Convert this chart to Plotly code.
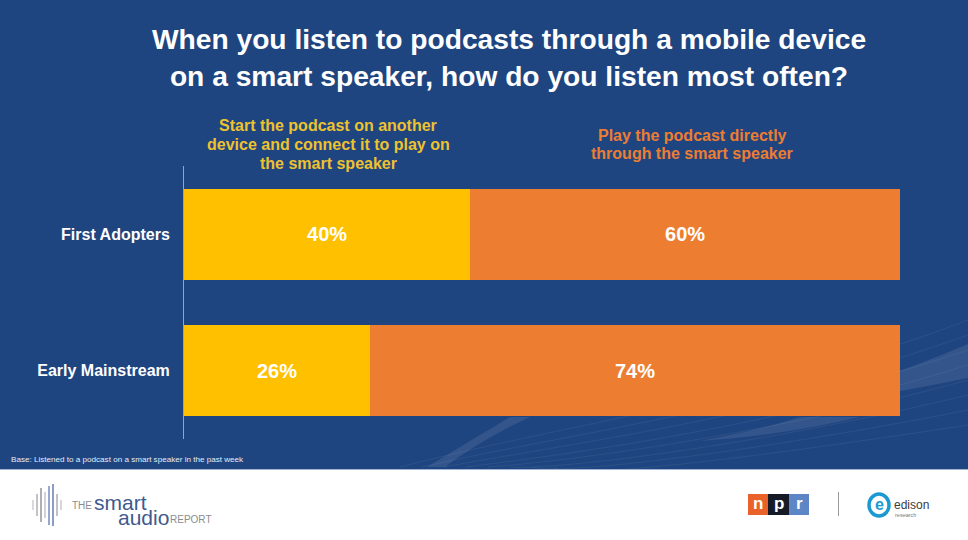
import plotly.graph_objects as go

categories = ["First Adopters", "Early Mainstream"]
series_names = [["Start the podcast on another", "device and connect it to play on", "the smart speaker"],
                ["Play the podcast directly", "through the smart speaker"]]
start_on_device = [40, 26]
play_directly = [60, 74]
title_text = "When you listen to podcasts through a mobile device<br>on a smart speaker, how do you listen most often?"
base_note = "Base: Listened to a podcast on a smart speaker in the past week"

W, H = 968, 540
L, R, T, B = 184, 68, 166, 101
PW, PH = W - L - R, H - T - B
FONT = "Liberation Sans, Arial, sans-serif"
BLUE, YEL, ORG = "#1f4580", "#ffc000", "#ed7d31"

def px(x): return (x - L) / PW
def py(y): return 1 - (y - T) / PH

fig = go.Figure()
for name, vals, col in [(series_names[0], start_on_device, YEL), (series_names[1], play_directly, ORG)]:
    fig.add_trace(go.Bar(
        y=categories, x=vals, orientation="h", name=" ".join(name),
        marker=dict(color=col, line=dict(width=0)),
        text=[f"{v}%" for v in vals], textposition="inside", insidetextanchor="middle",
        textangle=0, constraintext="none", cliponaxis=False,
        textfont=dict(family=FONT, size=20, color="white", weight="bold"),
        hoverinfo="x+y",
    ))

shapes = []
def rect(x0, y0, x1, y1, color, layer="below"):
    shapes.append(dict(type="rect", xref="paper", yref="paper", x0=px(x0), x1=px(x1), y0=py(y0), y1=py(y1),
                       fillcolor=color, line=dict(width=0), layer=layer))
def seg(x0, y0, x1, y1, color, width=1, layer="above"):
    shapes.append(dict(type="line", xref="paper", yref="paper", x0=px(x0), x1=px(x1), y0=py(y0), y1=py(y1),
                       line=dict(color=color, width=width), layer=layer))

# slide background
rect(0, 0, W, 469, BLUE)
seg(0, 469.5, W, 469.5, "#9fb3d3", 1, "below")

# faint decorative waves, lower right
for i, (y1, c) in enumerate([(320, 395), (335, 405), (350, 415), (365, 425), (380, 432), (395, 440), (410, 446), (425, 452)]):
    shapes.append(dict(type="path", xref="paper", yref="paper",
        path=f"M {px(400+i*22)} {py(467)} C {px(560)} {py(c+30)}, {px(760)} {py(c+5)}, {px(968)} {py(y1)}",
        line=dict(color="rgba(255,255,255,0.06)", width=1), layer="below"))

# brighter diagonal swooshes
swooshes = [
    f"M {px(427)} {py(467)} L {px(510)} {py(417)} L {px(530)} {py(417)} Q {px(480)} {py(440)} {px(445)} {py(467)} Z",
    f"M {px(700)} {py(441)} Q {px(760)} {py(430)} {px(800)} {py(417)} L {px(860)} {py(417)} Q {px(780)} {py(436)} {px(700)} {py(441)} Z",
    f"M {px(860)} {py(384)} Q {px(920)} {py(365)} {px(968)} {py(344)} L {px(968)} {py(378)} Q {px(920)} {py(388)} {px(860)} {py(398)} Z",
]
for p in swooshes:
    shapes.append(dict(type="path", xref="paper", yref="paper", path=p,
                       fillcolor="rgba(255,255,255,0.09)", line=dict(width=0), layer="below"))

# smart audio waveform
wave = [(33, 500, 510, "#c9c9d2"), (37, 494, 516, "#aaaaae"), (41, 488, 522, "#8d8d92"), (45, 492, 518, "#b9bdd0"),
        (49, 486, 525, "#6d82b6"), (53, 484, 526, "#5a74ae"), (57, 494, 516, "#a7a7ae"), (61, 500, 510, "#c6c6cc")]
for x, y0, y1, c in wave:
    seg(x, y0, x, y1, c, 1.4)

# npr blocks
rect(748, 494, 768, 515, "#e8622a", "above")
rect(768, 494, 789, 515, "#161a26", "above")
rect(789, 494, 809, 515, "#5c86c5", "above")
seg(838.5, 492, 838.5, 516, "#9a9a9a", 1)

# edison mark
shapes.append(dict(type="circle", xref="paper", yref="paper", x0=px(869), x1=px(889), y0=py(494), y1=py(516),
                   line=dict(color="#1b9ad1", width=3.5), layer="above"))

def note(x, y, text, size, color, anchor="center", bold=False):
    fig.add_annotation(xref="paper", yref="paper", x=px(x), y=py(y), text=text, showarrow=False,
                       xanchor=anchor, yanchor="middle", align=anchor,
                       font=dict(family=FONT, size=size, color=color, weight="bold" if bold else "normal"))

for line, y in zip(series_names[0], [125, 144, 163]):
    note(328, y, line, 16, "#eec22f", bold=True)
for line, y in zip(series_names[1], [135, 154]):
    note(692, y, line, 16, "#ed7d31", bold=True)
note(9, 459, base_note, 8.1, "#e6ebf3", anchor="left")

# footer logotypes
note(70, 505, "THE", 10, "#8b8b90", anchor="left")
note(92, 502, "smart", 21, "#41598f", anchor="left")
note(116, 517, "audio", 21, "#41598f", anchor="left")
note(168, 519, "REPORT", 10, "#8b8b90", anchor="left")
for x, t in [(758, "n"), (778.5, "p"), (799, "r")]:
    note(x, 503.5, t, 17, "white", bold=True)
note(879, 504, "e", 16, "#1b9ad1", bold=True)
note(892, 505, "edison", 12, "#3a3a40", anchor="left")
note(893, 514.5, "research", 5.5, "#77777c", anchor="left")

fig.update_layout(
    width=W, height=H, margin=dict(l=L, r=R, t=T, b=B, pad=0),
    paper_bgcolor="white", plot_bgcolor="rgba(0,0,0,0)",
    barmode="stack", bargap=0.33, showlegend=False,
    font=dict(family=FONT, color="white"),
    title=dict(text=f"<b>{title_text}</b>", x=509/W, xanchor="center", y=1-49/H, yanchor="middle",
               font=dict(family=FONT, size=28.2, color="white")),
    shapes=shapes,
    xaxis=dict(range=[0, 100], visible=False, fixedrange=True),
    yaxis=dict(autorange="reversed", showgrid=False, zeroline=False, fixedrange=True,
               showline=True, linecolor="#8ea5cc", linewidth=1, ticks="", ticklabelstandoff=10,
               tickfont=dict(family=FONT, size=16, color="white", weight="bold")),
)
fig.write_html("out.html", config=dict(displayModeBar=False),
               post_script="document.body.style.margin='0';document.documentElement.style.overflow='hidden';")
